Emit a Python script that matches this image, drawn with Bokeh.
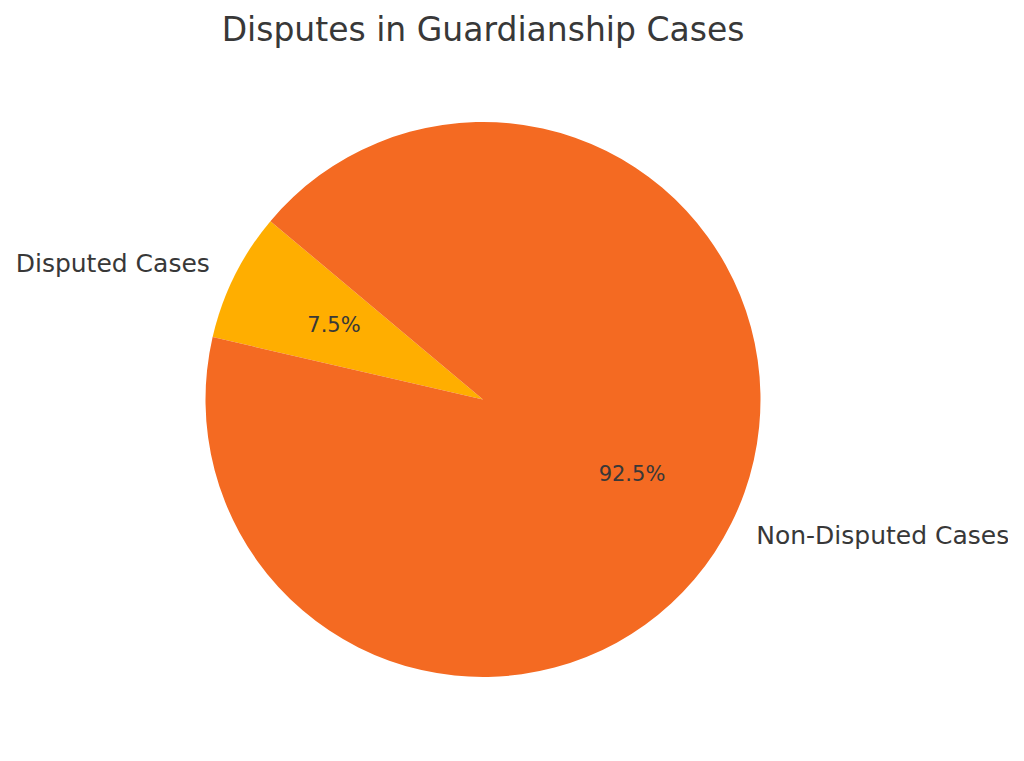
import math
from bokeh.plotting import figure
from bokeh.models import Range1d, ColumnDataSource
from bokeh.core.properties import value
from bokeh.embed import file_html
from bokeh.resources import INLINE

categories = ["Disputed Cases", "Non-Disputed Cases"]
shares = [7.5, 92.5]
colors = ["#FFAE00", "#F46A22"]
title_text = "Disputes in Guardianship Cases"

W, H = 1008, 745
p = figure(width=W, height=H, output_backend="svg", toolbar_location=None,
           x_range=Range1d(0, W), y_range=Range1d(761 - H, 761),
           x_axis_location=None, y_axis_location=None, min_border=0)
p.grid.visible = False
p.outline_line_color = None

cx, cy, r = 482.5, 761 - 399, 277.5
start_deg = 140.0
total = sum(shares)
starts, ends, lx, ly, px, py, aligns = [], [], [], [], [], [], []
pct_text = []
acc = start_deg
for s in shares:
    a0 = math.radians(acc)
    acc += s / total * 360.0
    a1 = math.radians(acc)
    starts.append(a0)
    ends.append(a1)
    mid = (a0 + a1) / 2
    lx.append(cx + 1.1 * r * math.cos(mid))
    ly.append(cy + 1.1 * r * math.sin(mid))
    px.append(cx + 0.6 * r * math.cos(mid))
    py.append(cy + 0.6 * r * math.sin(mid))
    aligns.append("right" if math.cos(mid) < 0 else "left")
    pct_text.append(f"{s:.1f}%")

src = ColumnDataSource(dict(start=starts, end=ends, color=colors, lx=lx, ly=ly,
                            px=px, py=py, align=aligns, label=categories, pct=pct_text))
p.wedge(x=cx, y=cy, radius=r, start_angle="start", end_angle="end",
        fill_color="color", line_color=None, source=src)

p.text(x="lx", y="ly", text="label", text_align="align", text_baseline="middle",
       text_font=value("DejaVu Sans"), text_font_size="25px", text_color="#383838", source=src)
p.text(x="px", y="py", text="pct", text_align="center", text_baseline="middle",
       text_font=value("DejaVu Sans"), text_font_size="21px", text_color="#383838", source=src)
p.text(x=[cx], y=[761 - 29], text=[title_text], text_align="center", text_baseline="middle",
       text_font=value("DejaVu Sans"), text_font_size="33px", text_color="#383838")

open("out.html", "w").write(file_html(p, INLINE))
